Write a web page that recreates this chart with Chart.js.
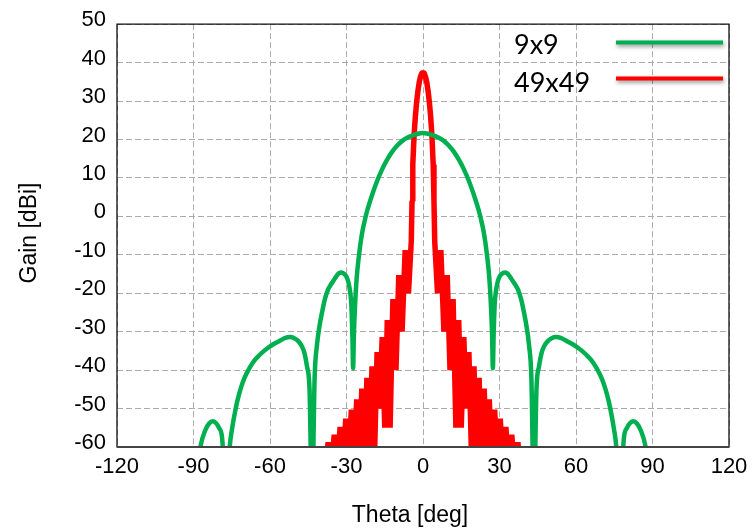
<!DOCTYPE html>
<html>
<head>
<meta charset="utf-8">
<script src="https://cdn.jsdelivr.net/npm/chart.js@4.4.1/dist/chart.umd.min.js"></script>
<style>
  html, body { margin: 0; padding: 0; background: #fff; }
  #wrap { width: 755px; height: 529px; }
</style>
</head>
<body>
<div id="wrap"><canvas id="c" width="755" height="529"></canvas></div>
<script>
// ---- Data ----
const xTicks = [-120, -90, -60, -30, 0, 30, 60, 90, 120];
const yTicks = [-60, -50, -40, -30, -20, -10, 0, 10, 20, 30, 40, 50];
const seriesNames = ['9x9', '49x49'];

// 9x9 array (green)
const greenTheta = [-90, -87.3, -85.3, -83.8, -82.5, -81.3, -80, -78.8, -77, -75.8, -74.8, -73.8, -72.8, -71.5, -70, -68, -66, -64, -62, -60, -58, -56, -54, -52, -50.5, -49, -47.5, -46.5, -45.5, -44.5, -43.5, -42.5, -41.6, -40.6, -39.6, -38.5, -37.3, -36, -35, -34, -33, -32, -31, -30, -29.3, -28.6, -28.1, -27.7, -27.4, -27.1, -26.7, -26, -25, -24, -23, -22, -20, -18, -16, -14, -12, -10, -8, -6, -4, -2,
  0, 2, 4, 6, 8, 10, 12, 14, 16, 18, 20, 22, 23, 24, 25, 26, 26.7, 27.1, 27.4, 27.7, 28.1, 28.6, 29.3, 30, 31, 32, 33, 34, 35, 36, 37.3, 38.5, 39.6, 40.6, 41.6, 42.5, 43.5, 44.5, 45.5, 46.5, 47.5, 49, 50.5, 52, 54, 56, 58, 60, 62, 64, 66, 68, 70, 71.5, 72.8, 73.8, 74.8, 75.8, 77, 78.8, 80, 81.3, 82.5, 83.8, 85.3, 87.3, 90];
const greenGain = [-75, -60, -55.5, -53.8, -53.3, -53.7, -55, -57.5, -75, -60, -55, -51.2, -48, -44.8, -42, -39.4, -37.4, -36, -34.8, -33.8, -33, -32.3, -31.6, -31.4, -31.7, -32.4, -33.8, -35.5, -39, -45, -75, -42, -33.6, -28.6, -25, -21.6, -19.1, -17.6, -16.6, -15.6, -14.8, -14.6, -14.9, -15.7, -17, -19.5, -23, -31, -39.5, -31, -24, -16, -9.5, -4.8, -1.5, 1.2, 5.5, 9.2, 12.3, 14.8, 16.9, 18.5, 19.7, 20.5, 21.1, 21.5,
  21.7, 21.5, 21.1, 20.5, 19.7, 18.5, 16.9, 14.8, 12.3, 9.2, 5.5, 1.2, -1.5, -4.8, -9.5, -16, -24, -31, -39.5, -31, -23, -19.5, -17, -15.7, -14.9, -14.6, -14.8, -15.6, -16.6, -17.6, -19.1, -21.6, -25, -28.6, -33.6, -42, -75, -45, -39, -35.5, -33.8, -32.4, -31.7, -31.4, -31.6, -32.3, -33, -33.8, -34.8, -36, -37.4, -39.4, -42, -44.8, -48, -51.2, -55, -60, -75, -57.5, -55, -53.7, -53.3, -53.8, -55.5, -60, -75];

// 49x49 array (red)
const redTheta = [-40.3, -39.3, -38.3, -37.2, -36.0, -34.8, -33.6, -32.5, -31.4, -30.3, -29.2, -28.1, -27.0, -26.0, -25.0, -24.0, -23.0, -22.0, -21.0, -20.0, -19.0, -18.0, -17.0, -16.0, -15.0, -14.0, -12.9, -11.8, -10.6, -9.5, -8.2, -7.0, -5.7, -4.6, -4.3, -4, -3.5, -3, -2.5, -2, -1.5, -1, -0.5,
  0, 0.5, 1, 1.5, 2, 2.5, 3, 3.5, 4, 4.3, 4.6, 5.7, 7.0, 8.2, 9.5, 10.6, 11.8, 12.9, 14.0, 15.0, 16.0, 17.0, 18.0, 19.0, 20.0, 21.0, 22.0, 23.0, 24.0, 25.0, 26.0, 27.0, 28.1, 29.2, 30.3, 31.4, 32.5, 33.6, 34.8, 36.0, 37.2, 38.3, 39.3, 40.3];
const redGain = [-66, -60.3, -66, -58.8, -66, -56.8, -66, -54.8, -66, -52.6, -66, -50.3, -66, -47.6, -66, -44.8, -66, -42, -66, -39, -62, -35.3, -50, -31.4, -55, -27, -55, -21.5, -40, -15.3, -30, -8.8, -20, -6.5, 4, 13.5, 21, 26, 29.7, 32.6, 34.8, 36.3, 37.2,
  37.5, 37.2, 36.3, 34.8, 32.6, 29.7, 26, 21, 13.5, 4, -6.5, -20, -8.8, -30, -15.3, -40, -21.5, -55, -27, -55, -31.4, -50, -35.3, -62, -39, -66, -42, -66, -44.8, -66, -47.6, -66, -50.3, -66, -52.6, -66, -54.8, -66, -56.8, -66, -58.8, -66, -60.3, -66];

const GREEN = '#00B050';
const RED = '#FF0000';

function toPoints(xs, ys) { return xs.map((x, i) => ({ x: x, y: ys[i] })); }

const framePlugin = {
  id: 'frame',
  afterDatasetsDraw(chart) {
    const { ctx, chartArea: a } = chart;
    ctx.save();
    ctx.strokeStyle = '#111';
    ctx.lineWidth = 1.3;
    ctx.beginPath();
    ctx.moveTo(a.left, a.bottom);
    ctx.lineTo(a.left, a.top);
    ctx.lineTo(a.right, a.top);
    ctx.lineTo(a.right, a.bottom);
    ctx.stroke();
    ctx.strokeStyle = '#444';
    ctx.lineWidth = 2;
    ctx.beginPath();
    ctx.moveTo(a.left - 0.5, a.bottom);
    ctx.lineTo(a.right + 0.5, a.bottom);
    ctx.stroke();
    ctx.restore();
  }
};

const legendPlugin = {
  id: 'customLegend',
  afterDraw(chart) {
    const { ctx } = chart;
    const items = [
      { label: seriesNames[0], color: GREEN, ty: 45, ly: 42.5 },
      { label: seriesNames[1], color: RED, ty: 83, ly: 78.5 }
    ];
    ctx.save();
    items.forEach(it => {
      ctx.font = '27px Lato, "Open Sans", sans-serif';
      ctx.fillStyle = '#000';
      ctx.textAlign = 'left';
      ctx.textBaseline = 'middle';
      ctx.fillText(it.label, 514, it.ty);
      ctx.save();
      ctx.shadowColor = 'rgba(0,0,0,0.45)';
      ctx.shadowBlur = 4;
      ctx.shadowOffsetY = 2;
      ctx.shadowOffsetX = 1;
      ctx.strokeStyle = it.color;
      ctx.lineWidth = 4;
      ctx.beginPath();
      ctx.moveTo(616, it.ly);
      ctx.lineTo(723, it.ly);
      ctx.stroke();
      ctx.restore();
    });
    ctx.restore();
  }
};

const titlePlugin = {
  id: 'axisTitles',
  afterDraw(chart) {
    const { ctx } = chart;
    ctx.save();
    ctx.font = '23px "Liberation Sans", Arial, sans-serif';
    ctx.fillStyle = '#000';
    ctx.textAlign = 'center';
    ctx.textBaseline = 'middle';
    ctx.fillText('Theta [deg]', 410, 516);
    ctx.translate(30, 233);
    ctx.rotate(-Math.PI / 2);
    ctx.fillText('Gain [dBi]', 0, 0);
    ctx.restore();
  }
};

const tickFont = { family: '"Liberation Sans", Arial, sans-serif', size: 22 };

new Chart(document.getElementById('c'), {
  type: 'line',
  data: {
    datasets: [
      {
        label: seriesNames[0],
        data: toPoints(greenTheta, greenGain),
        borderColor: GREEN,
        borderWidth: 4.5,
        pointRadius: 0,
        cubicInterpolationMode: 'monotone',
        fill: false,
        clip: 0
      },
      {
        label: seriesNames[1],
        data: toPoints(redTheta, redGain),
        borderColor: RED,
        borderWidth: 5.5,
        pointRadius: 0,
        tension: 0,
        borderJoinStyle: 'bevel',
        fill: false,
        clip: 0
      }
    ]
  },
  options: {
    responsive: false,
    animation: false,
    devicePixelRatio: 1,
    layout: { padding: { top: 24, right: 26, left: 0, bottom: 0 } },
    plugins: { legend: { display: false }, tooltip: { enabled: false } },
    scales: {
      x: {
        type: 'linear',
        min: xTicks[0],
        max: xTicks[xTicks.length - 1],
        afterBuildTicks(scale) { scale.ticks = xTicks.map(v => ({ value: v })); },
        afterFit(scale) { scale.height = 82; },
        ticks: { font: tickFont, color: '#000', padding: 7, maxRotation: 0, autoSkip: false },
        grid: { color: '#ababab', lineWidth: 1, drawTicks: false },
        border: { display: false, dash: [6, 3] }
      },
      y: {
        type: 'linear',
        min: yTicks[0],
        max: yTicks[yTicks.length - 1],
        afterBuildTicks(scale) { scale.ticks = yTicks.map(v => ({ value: v })); },
        afterFit(scale) { scale.width = 117; },
        ticks: { font: tickFont, color: '#000', padding: 11, autoSkip: false, labelOffset: -4 },
        grid: { color: '#ababab', lineWidth: 1, drawTicks: false },
        border: { display: false, dash: [6, 3] }
      }
    }
  },
  plugins: [framePlugin, legendPlugin, titlePlugin]
});
</script>
</body>
</html>
